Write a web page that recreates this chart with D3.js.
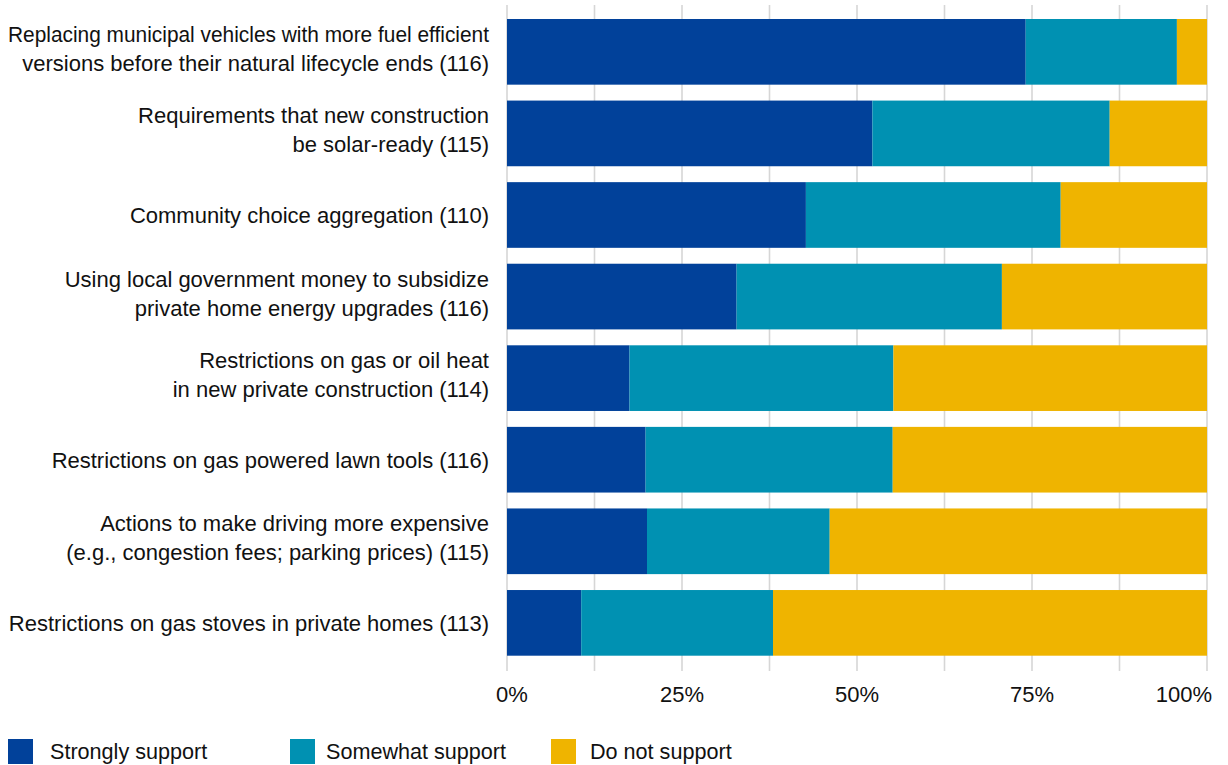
<!DOCTYPE html>
<html>
<head>
<meta charset="utf-8">
<script src="https://cdn.jsdelivr.net/npm/d3@7"></script>
<style>
  html, body { margin: 0; padding: 0; background: #fff; }
  svg { display: block; font-family: "Liberation Sans", Arial, sans-serif; }
</style>
</head>
<body>
<svg id="chart" width="1228" height="765"></svg>
<script>
const categories = [
  "Replacing municipal vehicles with more fuel efficient\nversions before their natural lifecycle ends (116)",
  "Requirements that new construction\nbe solar-ready (115)",
  "Community choice aggregation (110)",
  "Using local government money to subsidize\nprivate home energy upgrades (116)",
  "Restrictions on gas or oil heat\nin new private construction (114)",
  "Restrictions on gas powered lawn tools (116)",
  "Actions to make driving more expensive\n(e.g., congestion fees; parking prices) (115)",
  "Restrictions on gas stoves in private homes (113)"
];
const seriesNames = ["Strongly support", "Somewhat support", "Do not support"];
const stronglySupport = [74.1, 52.2, 42.7, 32.8, 17.5, 19.8, 20.0, 10.6];
const somewhatSupport = [21.6, 33.9, 36.4, 37.9, 37.7, 35.3, 26.1, 27.4];
const doNotSupport    = [4.3, 13.9, 20.9, 29.3, 44.8, 44.9, 53.9, 62.0];
const tickValues = [0, 12.5, 25, 37.5, 50, 62.5, 75, 87.5, 100];
const tickLabels = {0: "0%", 25: "25%", 50: "50%", 75: "75%", 100: "100%"};
const colors = ["#01419a", "#0091b2", "#efb400"];

const rows = categories.map((c, i) => ({
  cat: c,
  vals: [stronglySupport[i], somewhatSupport[i], doNotSupport[i]]
}));

const svg = d3.select("#chart");
const x = d3.scaleLinear().domain([0, 100]).range([507, 1207]);
const y = d3.scaleBand().domain(categories).range([19, 655.7]).paddingInner(0.195).paddingOuter(0);

// gridlines
svg.append("g").selectAll("line").data(tickValues).join("line")
  .attr("x1", d => x(d)).attr("x2", d => x(d))
  .attr("y1", 5).attr("y2", 671)
  .attr("stroke", "#d6d6d6").attr("stroke-width", 1.6);

// bars
const g = svg.append("g");
rows.forEach(r => {
  let acc = 0;
  r.vals.forEach((v, k) => {
    g.append("rect")
      .attr("x", x(acc))
      .attr("y", y(r.cat))
      .attr("width", x(acc + v) - x(acc))
      .attr("height", y.bandwidth())
      .attr("fill", colors[k]);
    acc += v;
  });
});

// category labels
const labelRight = 489, maxLabelWidth = 481;
const lab = svg.append("g").attr("font-size", 22).attr("fill", "#111").attr("text-anchor", "end");
categories.forEach(c => {
  const lines = c.split("\n");
  const cy = y(c) + y.bandwidth() / 2;
  const ys = lines.length === 1 ? [cy + 8] : [cy - 10, cy + 19];
  lines.forEach((ln, j) => {
    const t = lab.append("text").attr("x", labelRight).attr("y", ys[j]).text(ln);
    const w = t.node().getComputedTextLength();
    if (w > maxLabelWidth) {
      t.attr("textLength", maxLabelWidth).attr("lengthAdjust", "spacingAndGlyphs");
    }
  });
});

// x axis labels
const ax = svg.append("g").attr("font-size", 22).attr("fill", "#111");
Object.keys(tickLabels).map(Number).forEach(v => {
  let anchor = "middle", dx = 0;
  if (v === 0) { dx = 5; }
  if (v === 100) { anchor = "end"; dx = 5; }
  ax.append("text")
    .attr("x", x(v) + dx).attr("y", 702)
    .attr("text-anchor", anchor)
    .text(tickLabels[v]);
});

// legend
const legX = [8, 290, 551];
const legTextX = [50, 326, 590];
const leg = svg.append("g").attr("font-size", 21.6).attr("fill", "#111");
seriesNames.forEach((s, k) => {
  leg.append("rect").attr("x", legX[k]).attr("y", 739).attr("width", 25).attr("height", 25).attr("fill", colors[k]);
  leg.append("text").attr("x", legTextX[k]).attr("y", 759).text(s);
});
</script>
</body>
</html>
